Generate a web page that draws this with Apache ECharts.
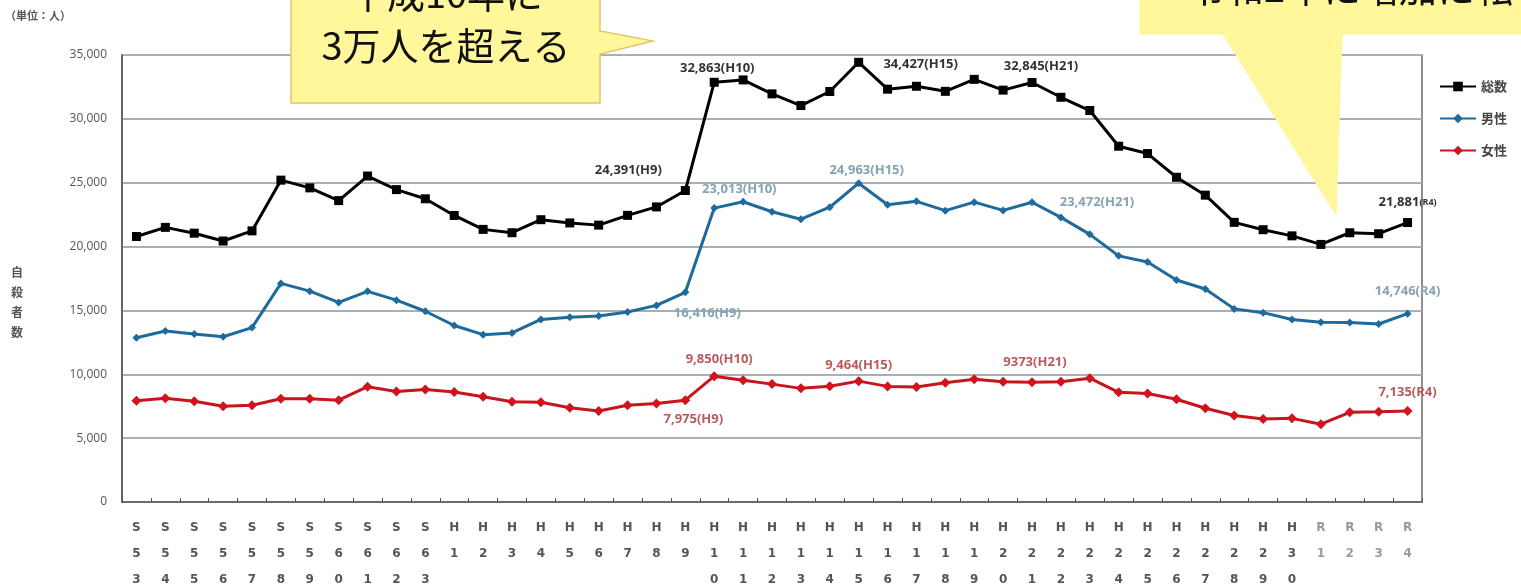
<!DOCTYPE html>
<html>
<head>
<meta charset="utf-8">
<script src="https://cdn.jsdelivr.net/npm/echarts@6/dist/echarts.min.js"></script>
<style>
html,body{margin:0;padding:0;background:#fff;}
#chart{width:1521px;height:587px;}
</style>
</head>
<body>
<div id="chart"></div>
<script>
const categories = ['S53','S54','S55','S56','S57','S58','S59','S60','S61','S62','S63',
  'H1','H2','H3','H4','H5','H6','H7','H8','H9','H10','H11','H12','H13','H14','H15','H16','H17','H18','H19','H20',
  'H21','H22','H23','H24','H25','H26','H27','H28','H29','H30','R1','R2','R3','R4'];
const totalValues = [20788,21503,21048,20434,21228,25202,24596,23599,25524,24460,23742,
  22436,21346,21084,22104,21851,21679,22445,23104,24391,32863,33048,31957,31042,32143,34427,32325,32552,32155,33093,32249,
  32845,31690,30651,27858,27283,25427,24025,21897,21321,20840,20169,21081,21007,21881];
const maleValues = [12859,13386,13155,12942,13654,17116,16508,15624,16497,15802,14934,
  13818,13102,13242,14296,14468,14560,14874,15393,16416,23013,23512,22727,22144,23080,24963,23272,23540,22813,23478,22831,
  23472,22283,20955,19273,18787,17386,16681,15121,14826,14290,14078,14055,13939,14746];
const femaleValues = [7929,8117,7893,7492,7574,8086,8088,7975,9027,8658,8808,
  8618,8244,7842,7808,7383,7119,7571,7711,7975,9850,9536,9230,8898,9063,9464,9053,9012,9342,9615,9418,
  9373,9407,9696,8585,8496,8041,7344,6776,6495,6550,6091,7026,7068,7135];
const seriesNames = ['総数','男性','女性'];
const yTicks = [0,5000,10000,15000,20000,25000,30000,35000];

// annotation placement (index -> label offset from point)
const totalLabelAt = {19:[-57,-20],20:[3,-14],25:[62,2],31:[9,-16],44:[0,-20]};
const maleLabelAt = {19:[22,21],20:[25,-19],25:[8,-13],31:[65,0],44:[0,-22]};
const femaleLabelAt = {19:[8,19],20:[5,-17],25:[0,-16],31:[3,-20],44:[0,-19]};
const noCommaIdx = {31:true};

function fmt(v, comma){ return comma ? v.toLocaleString('en-US') : String(v); }

function buildData(values, labelAt, color, smallR, noComma){
  return values.map((v,i)=>{
    if(!labelAt[i]) return v;
    const cat = categories[i];
    const num = fmt(v, !(noComma && noComma[i]));
    const lab = {
      show:true, position:'inside', offset:labelAt[i],
      color:color, fontSize:13, fontWeight:'bold', fontFamily:'Open Sans, DejaVu Sans, sans-serif'
    };
    if(smallR && cat[0]==='R'){
      lab.formatter = '{a|'+num+'}{b|('+cat+')}';
      lab.rich = {a:{color:color,fontSize:13,fontWeight:'bold'}, b:{color:color,fontSize:9,fontWeight:'bold'}};
    } else {
      lab.formatter = num+'('+cat+')';
    }
    return {value:v, label:lab};
  });
}

const chart = echarts.init(document.getElementById('chart'));
const option = {
  animation:false,
  backgroundColor:'#fff',
  grid:{left:122,right:99,top:55,bottom:85,outerBoundsMode:'none',containLabel:false,
    show:true,borderColor:'#6a6a6a',borderWidth:1.5,backgroundColor:'transparent'},
  legend:{
    orient:'vertical', left:1434, top:75, itemGap:19, itemWidth:36, itemHeight:12,
    textStyle:{color:'#444',fontSize:13,fontWeight:'bold',fontFamily:'Noto Sans CJK JP'},
    data:seriesNames
  },
  xAxis:{
    type:'category', data:categories, boundaryGap:true,
    axisLine:{lineStyle:{color:'#555',width:1.5}},
    axisTick:{show:true,inside:true,length:4,interval:0,lineStyle:{color:'#555'}},
    axisLabel:{
      interval:0, margin:13, lineHeight:26, fontSize:12, fontWeight:'bold',
      fontFamily:'DejaVu Sans, sans-serif',
      color:(v)=> v[0]==='R' ? '#9a9a9a' : '#555',
      formatter:(v)=>v.split('').join('\n')
    },
    splitLine:{show:false}
  },
  yAxis:{
    type:'value', min:yTicks[0], max:yTicks[yTicks.length-1], interval:yTicks[1]-yTicks[0],
    axisLine:{show:true,lineStyle:{color:'#555',width:1.5}},
    axisTick:{show:false},
    axisLabel:{margin:15,fontSize:12,color:'#555',fontFamily:'Open Sans, sans-serif',
      formatter:(v)=> v===0 ? '0' : v.toLocaleString('en-US')},
    splitLine:{lineStyle:{color:'#a8b0b5',width:2}}
  },
  series:[
    {name:seriesNames[0],type:'line',data:buildData(totalValues,totalLabelAt,'#333',true),
      symbol:'rect',symbolSize:9,itemStyle:{color:'#000'},lineStyle:{color:'#000',width:3},z:4},
    {name:seriesNames[1],type:'line',data:buildData(maleValues,maleLabelAt,'#85a3b0',false),
      symbol:'diamond',symbolSize:8,itemStyle:{color:'#1f6a9c'},lineStyle:{color:'#1f6a9c',width:3},z:3},
    {name:seriesNames[2],type:'line',data:buildData(femaleValues,femaleLabelAt,'#b85a5c',false,noCommaIdx),
      symbol:'diamond',symbolSize:10,itemStyle:{color:'#d0141c'},lineStyle:{color:'#c8141c',width:3},z:3}
  ],
  graphic:[
    {type:'text',left:5,top:10,z:10,style:{text:'（単位：人）',fontSize:11,fontWeight:'bold',fill:'#555',fontFamily:'Noto Sans CJK JP'}},
    {type:'text',left:11,top:262,z:10,style:{text:'自\n殺\n者\n数',fontSize:12,lineHeight:20,fontWeight:'bold',fill:'#555',fontFamily:'Noto Sans CJK JP'}},
    {type:'polygon',z:100,shape:{points:[[291,-5],[600,-5],[600,31],[653,41],[600,54],[600,103],[291,103]]},
      style:{fill:'#fff799',stroke:'#e3c665',lineWidth:1.5}},
    {type:'text',z:101,x:446,y:20,style:{text:'平成10年に\n3万人を超える',fontSize:38,lineHeight:52,fill:'#111',
      align:'center',verticalAlign:'middle',fontFamily:'Noto Sans CJK JP'}},
    {type:'polygon',z:100,shape:{points:[[1140,-5],[1530,-5],[1530,34],[1342,34],[1336,215],[1223,34],[1140,34]]},
      style:{fill:'#fff799',stroke:'#fff2a0',lineWidth:1}},
    {type:'text',z:101,x:1188,y:-12,style:{text:'令和2年に増加に転じる',fontSize:38,fill:'#111',
      align:'left',verticalAlign:'middle',fontFamily:'Noto Sans CJK JP'}}
  ]
};
chart.setOption(option);
</script>
</body>
</html>
